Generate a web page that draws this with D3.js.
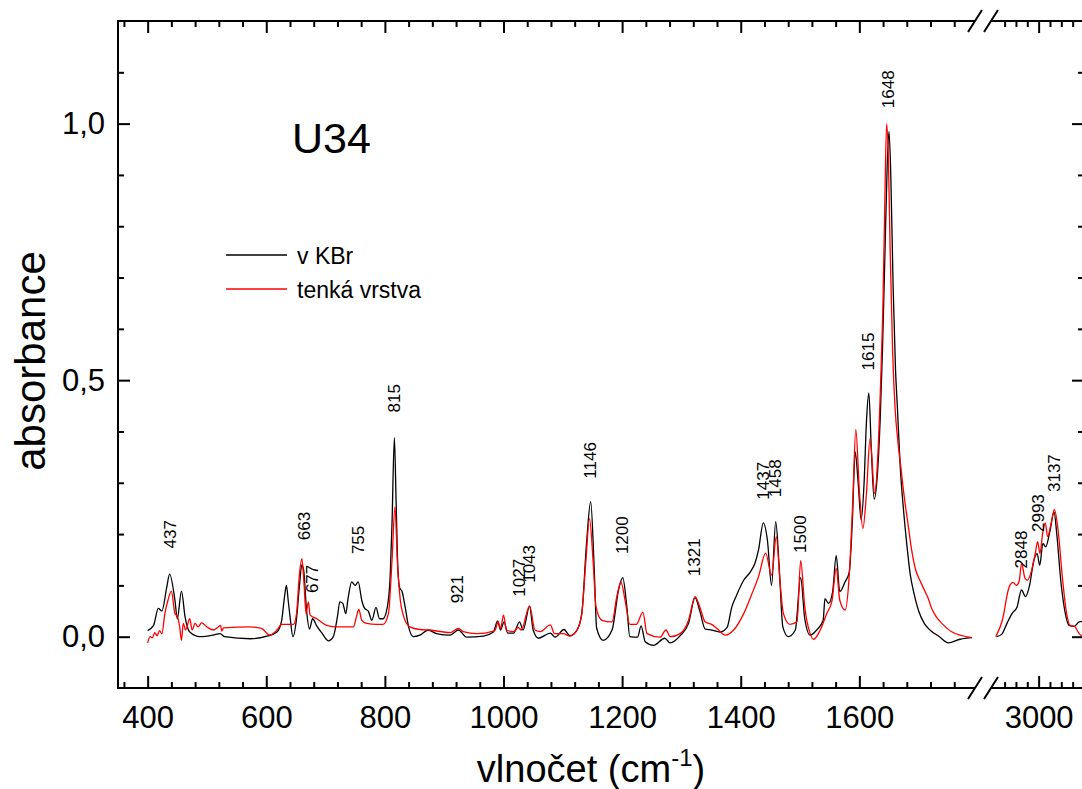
<!DOCTYPE html>
<html>
<head>
<meta charset="utf-8">
<script src="https://cdn.jsdelivr.net/npm/d3@7"></script>
<style>
  body { margin: 0; background: #fff; }
  text { font-family: "Liberation Sans", Arial, sans-serif; fill: #000; }
</style>
</head>
<body>
<svg id="chart" width="1082" height="789"></svg>
<script>
// spectra, [wavenumber cm-1, absorbance], split by the axis break
const kbrLow = [
  [400,0.012],[410,0.022],[418,0.055],[424,0.05],[432,0.095],[437,0.122],[446,0.071],[450,0.035],
  [457,0.089],[463,0.039],[471,0.009],[488,0.0],[510,0.003],[522,0.006],[530,0.0],[573,-0.004],
  [601,0.001],[618,0.009],[626,0.032],[631,0.08],[634,0.1],[637,0.07],[640,0.04],[645,0.0],
  [651,0.035],[656,0.1],[660,0.14],[663,0.13],[668,0.05],[673,0.015],[678,0.035],[685,0.021],
  [694,0.007],[705,-0.008],[713,0.0],[720,0.039],[724,0.068],[729,0.065],[734,0.045],[738,0.075],
  [744,0.107],[750,0.1],[755,0.107],[761,0.071],[766,0.055],[772,0.05],[778,0.032],[785,0.057],
  [791,0.035],[797,0.035],[804,0.057],[809,0.12],[812,0.22],[816,0.388],[819,0.26],[822,0.13],
  [825,0.095],[829,0.088],[834,0.059],[840,0.019],[848,0.0],[859,0.003],[873,0.013],[887,0.006],
  [910,0.003],[924,0.013],[938,-0.001],[966,0.001],[983,0.009],[990,0.031],[995,0.013],[1001,0.029],
  [1007,0.007],[1017,0.007],[1027,0.029],[1033,0.013],[1044,0.059],[1050,0.013],[1059,-0.003],
  [1079,0.007],[1087,-0.001],[1102,0.014],[1112,0.002],[1124,0.013],[1132,0.045],[1140,0.182],
  [1147,0.263],[1153,0.131],[1157,0.017],[1168,-0.007],[1183,0.013],[1194,0.091],[1201,0.115],
  [1208,0.058],[1213,0.0],[1226,-0.001],[1232,0.021],[1239,-0.01],[1253,-0.017],[1272,-0.003],
  [1281,-0.012],[1298,0.002],[1312,0.026],[1323,0.076],[1331,0.05],[1340,0.015],[1351,0.013],
  [1365,0.009],[1377,0.018],[1385,0.058],[1393,0.081],[1405,0.11],[1416,0.126],[1424,0.143],
  [1430,0.169],[1438,0.222],[1445,0.188],[1452,0.1],[1459,0.224],[1465,0.133],[1471,0.019],
  [1480,0.0],[1492,0.013],[1501,0.115],[1508,0.035],[1517,0.003],[1528,0.013],[1539,0.032],
  [1542,0.074],[1548,0.065],[1555,0.088],[1561,0.158],[1567,0.088],[1576,0.107],[1583,0.126],
  [1588,0.22],[1593,0.36],[1598,0.3],[1603,0.228],[1608,0.3],[1612,0.42],[1616,0.475],[1620,0.37],
  [1625,0.268],[1630,0.31],[1635,0.42],[1639,0.56],[1643,0.74],[1647,0.92],[1650,0.985],[1653,0.9],
  [1657,0.68],[1661,0.52],[1664,0.45],[1669,0.33],[1675,0.24],[1680,0.18],[1686,0.12],[1692,0.085],
  [1700,0.05],[1710,0.025],[1720,0.012],[1735,0.0],[1750,-0.012],[1770,-0.005],[1790,-0.002]
];
const kbrHigh = [
  [2629,0.0],[2676,0.005],[2721,0.026],[2765,0.045],[2810,0.058],[2849,0.091],[2884,0.078],
  [2920,0.1],[2958,0.149],[2987,0.162],[3009,0.139],[3038,0.182],[3062,0.175],[3098,0.204],
  [3136,0.243],[3160,0.2],[3195,0.11],[3225,0.058],[3269,0.022],[3313,0.02],[3358,0.029],[3400,0.03]
];
const filmLow = [
  [400,-0.012],[404,0.0],[408,-0.002],[412,0.008],[416,0.002],[420,0.012],[424,0.006],[429,0.045],
  [434,0.07],[440,0.089],[446,0.045],[450,0.04],[454,0.019],[457,-0.007],[460,0.026],[464,0.013],
  [471,0.035],[475,0.013],[480,0.026],[485,0.019],[491,0.027],[500,0.019],[511,0.013],[519,0.019],
  [523,0.022],[525,0.011],[528,0.017],[573,0.019],[592,0.016],[606,0.003],[618,0.013],[626,0.024],
  [646,0.024],[651,0.045],[656,0.123],[660,0.152],[664,0.097],[667,0.045],[671,0.068],[674,0.042],
  [685,0.035],[702,0.022],[719,0.019],[747,0.019],[752,0.039],[756,0.053],[761,0.032],[769,0.026],
  [786,0.024],[797,0.024],[806,0.045],[812,0.148],[817,0.253],[821,0.148],[826,0.071],[831,0.042],
  [842,0.019],[859,0.014],[876,0.013],[910,0.008],[924,0.016],[932,0.01],[955,0.006],[983,0.011],
  [986,0.013],[991,0.029],[995,0.016],[1000,0.042],[1005,0.013],[1017,0.01],[1025,0.018],[1030,0.013],
  [1044,0.06],[1053,0.013],[1062,0.01],[1079,0.023],[1086,0.006],[1101,0.006],[1112,0.001],
  [1124,0.013],[1132,0.045],[1139,0.149],[1145,0.23],[1151,0.149],[1156,0.058],[1166,0.032],
  [1183,0.029],[1191,0.078],[1198,0.107],[1205,0.071],[1213,0.024],[1224,0.024],[1235,0.048],
  [1242,0.006],[1264,-0.001],[1274,0.013],[1281,0.0],[1298,0.006],[1312,0.032],[1323,0.078],
  [1331,0.058],[1340,0.029],[1351,0.024],[1360,0.016],[1374,0.003],[1388,0.013],[1405,0.045],
  [1419,0.084],[1430,0.117],[1442,0.163],[1452,0.12],[1460,0.195],[1466,0.11],[1472,0.045],
  [1483,0.024],[1495,0.029],[1501,0.148],[1508,0.058],[1517,0.006],[1523,-0.005],[1534,0.013],
  [1545,0.045],[1554,0.071],[1561,0.133],[1567,0.071],[1576,0.052],[1583,0.12],[1589,0.266],
  [1594,0.404],[1600,0.285],[1606,0.211],[1612,0.28],[1618,0.386],[1626,0.279],[1631,0.35],
  [1636,0.5],[1640,0.66],[1643,0.85],[1646,1.0],[1649,0.93],[1652,0.75],[1656,0.56],[1660,0.45],
  [1665,0.38],[1670,0.33],[1676,0.27],[1682,0.22],[1688,0.17],[1695,0.13],[1702,0.11],[1710,0.09],
  [1716,0.075],[1722,0.055],[1730,0.038],[1740,0.025],[1755,0.01],[1790,-0.002]
];
const filmHigh = [
  [2622,0.0],[2680,0.032],[2740,0.097],[2775,0.106],[2804,0.1],[2828,0.108],[2850,0.143],
  [2878,0.115],[2900,0.11],[2946,0.136],[2970,0.162],[2991,0.185],[3012,0.162],[3035,0.201],
  [3059,0.222],[3079,0.195],[3109,0.22],[3139,0.248],[3168,0.214],[3212,0.11],[3242,0.052],
  [3278,0.022],[3316,0.02],[3360,0.005],[3400,0.0]
];

// peak annotations: wavenumber, absorbance where the text starts
const peakLow = [437, 663, 677, 755, 815, 921, 1027, 1043, 1146, 1200, 1321, 1437, 1458, 1500, 1615, 1648];
const peakLowAt = [0.172, 0.188, 0.085, 0.161, 0.437, 0.065, 0.078, 0.105, 0.308, 0.161, 0.118, 0.267, 0.272, 0.163, 0.519, 1.03];
const peakHigh = [2848, 2993, 3137];
const peakHighAt = [0.133, 0.204, 0.282];

const xLowMajor = [400, 600, 800, 1000, 1200, 1400, 1600];
const xLowMinor = d3.range(360, 1795, 40).filter(v => v % 200 !== 0);
const xHighMajor = [3000];
const xHighMinor = [2700, 2800, 2900, 3100, 3200, 3300];
const yMajor = [0, 0.5, 1.0];
const yMinor = [0.1, 0.2, 0.3, 0.4, 0.6, 0.7, 0.8, 0.9, 1.1];

const seriesNames = ["v KBr", "tenká vrstva"];
const seriesColors = ["#000000", "#ff0000"];

const svg = d3.select("#chart");
const plotLeft = 118, plotRight = 1084, plotTop = 21, plotBottom = 688;

const xLow = d3.scaleLinear().domain([350, 1795]).range([plotLeft, 975]);
const xHigh = d3.scaleLinear().domain([2580, 3400]).range([991, plotRight]);
const y = d3.scaleLinear().domain([-0.1, 1.2]).range([plotBottom, plotTop]);

const yFmt = d3.formatLocale({decimal: ",", thousands: "", grouping: [3], currency: ["", ""]}).format(".1f");
const xFmt = d3.format("d");

svg.append("defs").append("clipPath").attr("id", "plot")
  .append("rect").attr("x", plotLeft).attr("y", plotTop)
  .attr("width", plotRight - plotLeft).attr("height", plotBottom - plotTop);

function styleAxis(g) {
  g.select(".domain").remove();
  g.selectAll(".tick line").attr("stroke", "#000").attr("stroke-width", 2);
  g.selectAll(".tick text").attr("font-size", 31).attr("font-family", "Liberation Sans, Arial, sans-serif");
}

function xAxes(scale, major, minor) {
  svg.append("g").attr("transform", `translate(0,${plotBottom})`)
    .call(d3.axisBottom(scale).tickValues(major).tickSizeInner(-12).tickSizeOuter(0).tickPadding(18).tickFormat(xFmt))
    .call(styleAxis);
  svg.append("g").attr("transform", `translate(0,${plotBottom})`)
    .call(d3.axisBottom(scale).tickValues(minor).tickSizeInner(-6).tickSizeOuter(0).tickFormat(""))
    .call(styleAxis);
  svg.append("g").attr("transform", `translate(0,${plotTop})`)
    .call(d3.axisTop(scale).tickValues(major).tickSizeInner(-12).tickSizeOuter(0).tickFormat(""))
    .call(styleAxis);
  svg.append("g").attr("transform", `translate(0,${plotTop})`)
    .call(d3.axisTop(scale).tickValues(minor).tickSizeInner(-6).tickSizeOuter(0).tickFormat(""))
    .call(styleAxis);
}

xAxes(xLow, xLowMajor, xLowMinor);
xAxes(xHigh, xHighMajor, xHighMinor);

svg.append("g").attr("transform", `translate(${plotLeft},0)`)
  .call(d3.axisLeft(y).tickValues(yMajor).tickSizeInner(-12).tickSizeOuter(0).tickPadding(13).tickFormat(yFmt))
  .call(styleAxis);
svg.append("g").attr("transform", `translate(${plotLeft},0)`)
  .call(d3.axisLeft(y).tickValues(yMinor).tickSizeInner(-6).tickSizeOuter(0).tickFormat(""))
  .call(styleAxis);
svg.append("g").attr("transform", `translate(${plotRight},0)`)
  .call(d3.axisRight(y).tickValues(yMajor).tickSizeInner(-12).tickSizeOuter(0).tickFormat(""))
  .call(styleAxis);
svg.append("g").attr("transform", `translate(${plotRight},0)`)
  .call(d3.axisRight(y).tickValues(yMinor).tickSizeInner(-6).tickSizeOuter(0).tickFormat(""))
  .call(styleAxis);

// frame, with the gap at the break
const frame = svg.append("g").attr("stroke", "#000").attr("stroke-width", 2).attr("fill", "none");
[plotTop, plotBottom].forEach(yy => {
  frame.append("line").attr("x1", plotLeft - 1).attr("x2", xLow.range()[1]).attr("y1", yy).attr("y2", yy);
  frame.append("line").attr("x1", xHigh.range()[0]).attr("x2", plotRight + 1).attr("y1", yy).attr("y2", yy);
  [xLow.range()[1], xHigh.range()[0]].forEach(bx => {
    frame.append("line").attr("x1", bx - 7).attr("y1", yy + 11).attr("x2", bx + 7).attr("y2", yy - 11);
  });
});
frame.append("line").attr("x1", plotLeft).attr("x2", plotLeft).attr("y1", plotTop).attr("y2", plotBottom + 1);
frame.append("line").attr("x1", plotRight).attr("x2", plotRight).attr("y1", plotTop).attr("y2", plotBottom + 1);

// spectra
const lineLow = d3.line().x(d => xLow(d[0])).y(d => y(d[1])).curve(d3.curveMonotoneX);
const lineHigh = d3.line().x(d => xHigh(d[0])).y(d => y(d[1])).curve(d3.curveMonotoneX);
const curves = svg.append("g").attr("clip-path", "url(#plot)").attr("fill", "none").attr("stroke-width", 1.3);
[[kbrLow, kbrHigh], [filmLow, filmHigh]].forEach((s, i) => {
  curves.append("path").attr("d", lineLow(s[0])).attr("stroke", seriesColors[i]);
  curves.append("path").attr("d", lineHigh(s[1])).attr("stroke", seriesColors[i]);
});

// peak labels
function peakText(scale, peaks, at) {
  svg.append("g").selectAll("text").data(peaks).join("text")
    .attr("transform", (d, i) => `translate(${scale(d)},${y(at[i])}) rotate(-90)`)
    .attr("dy", "0.35em")
    .attr("font-size", 17)
    .text(d => d);
}
peakText(xLow, peakLow, peakLowAt);
peakText(xHigh, peakHigh, peakHighAt);

// legend
const legend = svg.append("g").attr("transform", "translate(226,255)");
seriesNames.forEach((name, i) => {
  legend.append("line").attr("x1", 0).attr("x2", 61).attr("y1", i * 34).attr("y2", i * 34)
    .attr("stroke", seriesColors[i]).attr("stroke-width", 1.3);
  legend.append("text").attr("x", 71).attr("y", i * 34 + 9).attr("font-size", 23).text(name);
});

svg.append("text").attr("x", 292).attr("y", 153).attr("font-size", 43).text("U34");

// axis titles
svg.append("text").attr("transform", "translate(45,361) rotate(-90)")
  .attr("text-anchor", "middle").attr("font-size", 42).text("absorbance");

const xt = svg.append("text").attr("x", 591).attr("y", 782).attr("text-anchor", "middle").attr("font-size", 38);
xt.append("tspan").text("vlnočet (cm");
xt.append("tspan").attr("font-size", 24).attr("dy", -16).text("-1");
xt.append("tspan").attr("dy", 16).text(")");
</script>
</body>
</html>
